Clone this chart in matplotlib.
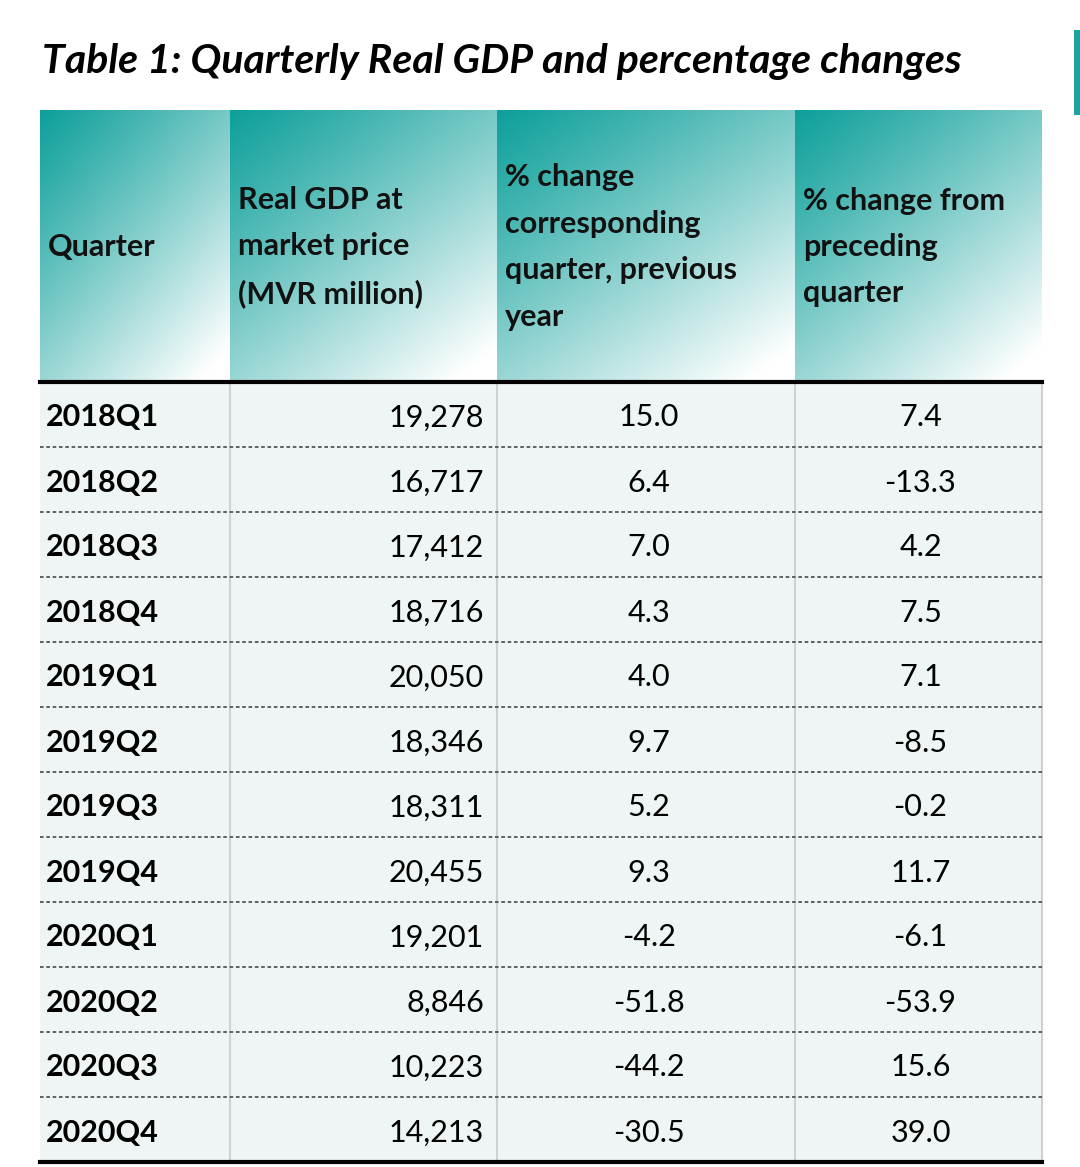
import matplotlib
matplotlib.use("Agg")
import matplotlib.pyplot as plt
import numpy as np
from matplotlib.colors import to_rgb

title = "Table 1: Quarterly Real GDP and percentage changes"
headers = ["Quarter", "Real GDP at\nmarket price\n(MVR million)",
           "% change\ncorresponding\nquarter, previous\nyear", "% change from\npreceding\nquarter"]
quarters = ["2018Q1","2018Q2","2018Q3","2018Q4","2019Q1","2019Q2","2019Q3","2019Q4",
            "2020Q1","2020Q2","2020Q3","2020Q4"]
gdp = ["19,278","16,717","17,412","18,716","20,050","18,346","18,311","20,455",
       "19,201","8,846","10,223","14,213"]
yoy = ["15.0","6.4","7.0","4.3","4.0","9.7","5.2","9.3","-4.2","-51.8","-44.2","-30.5"]
qoq = ["7.4","-13.3","4.2","7.5","7.1","-8.5","-0.2","11.7","-6.1","-53.9","15.6","39.0"]

W, H = 1080, 1167
fig = plt.figure(figsize=(W/100, H/100), dpi=100)
ax = fig.add_axes([0, 0, 1, 1])
ax.set_xlim(0, W); ax.set_ylim(H, 0); ax.axis("off")

font = "Lato"
ax.text(42, 62, title, fontsize=29.5, fontweight="bold", fontstyle="italic",
        family=font, va="center", ha="left")
ax.add_patch(plt.Rectangle((1074, 30), 8, 85, color="#1aa39f", lw=0))

cols = [40, 230, 497, 795, 1042]
htop, hbot = 110, 380
teal = np.array(to_rgb("#0fa09b")); white = np.array([1, 1, 1])
for i in range(4):
    x0, x1 = cols[i], cols[i+1]
    nx, ny = 100, 100
    xx, yy = np.meshgrid(np.linspace(0, 1, nx), np.linspace(0, 1, ny))
    t = np.clip((xx*0.7 + yy*0.9) / 1.5, 0, 1) ** 1.1
    img = teal[None, None, :]*(1-t[..., None]) + white[None, None, :]*t[..., None]
    ax.imshow(img, extent=(x0, x1, hbot, htop), aspect="auto", zorder=1, interpolation="bilinear")
    ax.text(x0+8, (htop+hbot)/2 + 2, headers[i], fontsize=22, fontweight="bold", family=font,
            va="center", ha="left", linespacing=1.8, color="#111111", zorder=3)
ax.set_xlim(0, W); ax.set_ylim(H, 0)

rtop, rbot = 382, 1162
n = len(quarters)
rh = (rbot - rtop) / n
ax.add_patch(plt.Rectangle((cols[0], rtop), cols[-1]-cols[0], rbot-rtop, color="#eef5f4", lw=0, zorder=1))
ax.plot([cols[0], cols[-1]], [rtop, rtop], color="black", lw=3, zorder=4)
ax.plot([cols[0], cols[-1]], [rbot, rbot], color="black", lw=3, zorder=4)
for k in range(1, n):
    y = rtop + k*rh
    ax.plot([cols[0], cols[-1]], [y, y], color="#555555", lw=1.3, ls=(0, (2, 1.5)), zorder=3)
for c in cols[1:]:
    ax.plot([c, c], [rtop, rbot], color="#d0d0d0", lw=1.5, zorder=2)
for k in range(n):
    yc = rtop + (k+0.5)*rh + 3
    ax.text(46, yc, quarters[k], fontsize=22, fontweight="bold", family=font, va="center", ha="left", zorder=5)
    ax.text(484, yc, gdp[k], fontsize=22, family=font, va="center", ha="right", zorder=5)
    ax.text((cols[2]+cols[3])/2 + 3, yc, yoy[k], fontsize=22, family=font, va="center", ha="center", zorder=5)
    ax.text((cols[3]+cols[4])/2 + 2, yc, qoq[k], fontsize=22, family=font, va="center", ha="center", zorder=5)

fig.savefig("out.png", dpi=100)
